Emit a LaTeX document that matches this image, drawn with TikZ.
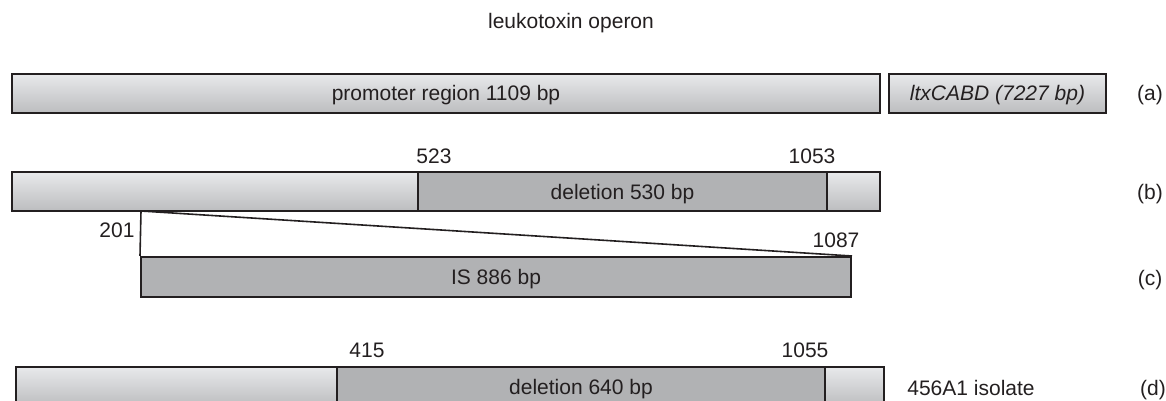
\documentclass[tikz,border=0pt]{standalone}
\usepackage{fontspec}
\setmainfont{Liberation Sans}
\definecolor{ink}{HTML}{231F20}
\definecolor{topg}{HTML}{E8E9EB}
\definecolor{botg}{HTML}{BCBDBF}
\definecolor{delg}{HTML}{B1B2B4}
\begin{document}
\begin{tikzpicture}[x=1pt,y=-1pt,
  every node/.style={font=\fontsize{21}{24}\selectfont, text=ink},
  seg/.style={draw=ink, line width=2pt, rectangle, inner sep=0pt, text height=15pt, text depth=0pt},
  lightseg/.style={seg, top color=topg, bottom color=botg},
  delseg/.style={seg, fill=delg},
  num/.style={anchor=base, inner sep=0pt},
  conn/.style={draw=ink, line width=1.6pt}]
\useasboundingbox (0,0) rectangle (1166,401);
\clip (0,0) rectangle (1166,401);
% title
\node[num] (title) at (571,29) {leukotoxin operon};
% (a)
\node[lightseg, minimum width=868pt, minimum height=39pt] (prom) at (446,93.5) {promoter region 1109 bp};
\node[lightseg, minimum width=217pt, minimum height=39pt] (ltx) at (997.5,93.5) {\itshape ltxCABD (7227 bp)};
\node[num] (la) at (1150,101) {(a)};
% (b)
\node[lightseg, minimum width=406pt, minimum height=39pt] (b1) at (215,191.5) {};
\node[delseg, minimum width=409pt, minimum height=39pt] (b2) at (622.5,191.5) {deletion 530 bp};
\node[lightseg, minimum width=53pt, minimum height=39pt] (b3) at (853.5,191.5) {};
\node[num] (n523) at (434,163) {523};
\node[num] (n1053) at (812,163) {1053};
\node[num] (lb) at (1150,199) {(b)};
% (c)
\node[delseg, minimum width=710pt, minimum height=40pt] (is) at (496,277) {IS 886 bp};
\coordinate (ins) at (141,211);
\draw[conn] (ins) -- (is.north west);
\draw[conn] (ins) -- (is.north east);
\node[num] (n201) at (117,237) {201};
\node[num] (n1087) at (836,247) {1087};
\node[num] (lc) at (1150,285) {(c)};
% (d)
\node[lightseg, minimum width=321pt, minimum height=39pt] (d1) at (176.5,386.5) {};
\node[delseg, minimum width=488pt, minimum height=39pt] (d2) at (581,386.5) {deletion 640 bp};
\node[lightseg, minimum width=59pt, minimum height=39pt] (d3) at (854.5,386.5) {};
\node[num] (n415) at (367,357) {415};
\node[num] (n1055) at (805,357) {1055};
\node[num] (iso) at (971,395) {456A1 isolate};
\node[num] (ld) at (1153,395) {(d)};
\end{tikzpicture}
\end{document}
